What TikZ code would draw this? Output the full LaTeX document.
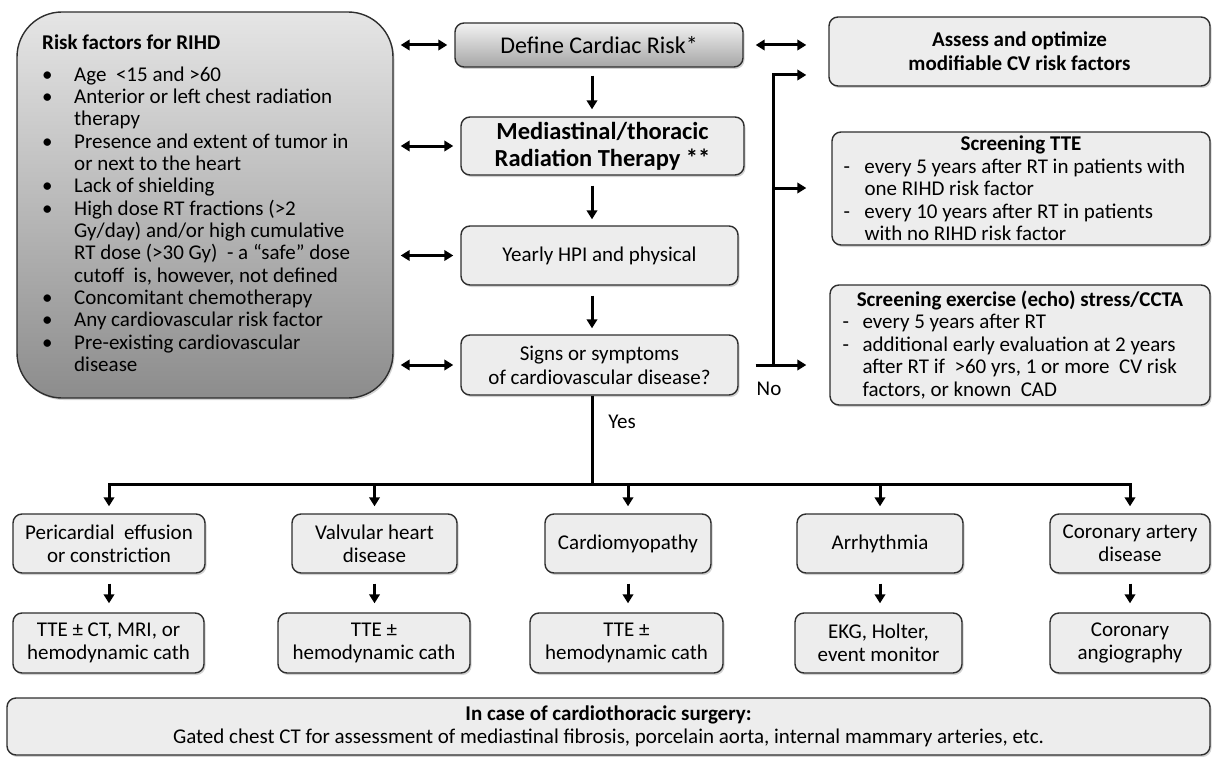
\documentclass[tikz,border=0pt]{standalone}
\usepackage{fontspec}
\setmainfont{Carlito}
\usetikzlibrary{arrows.meta,shadows}
\definecolor{boxgray}{HTML}{EDEDED}
\definecolor{edge}{HTML}{2E2E2E}
\newcommand\fsn{\fontsize{21}{23}\selectfont}
\newcommand\rbul{\makebox[32pt][l]{\textbullet}}
\newcommand\rind{\hspace*{32pt}}
\newcommand\dsh{\makebox[21pt][l]{-}}
\newcommand\dind{\hspace*{21pt}}
\begin{document}
\begin{tikzpicture}[x=1pt,y=-1pt,
  box/.style={draw=edge, line width=1.4pt, rounded corners=9pt, fill=boxgray,
    align=center, inner sep=0pt, font=\fsn,
    drop shadow={shadow xshift=1.5pt, shadow yshift=-2pt, opacity=0.35}},
  arr/.style={line width=3pt, -{Triangle[width=10.5pt,length=9pt]}},
  dbl/.style={line width=3pt, {Triangle[width=10.5pt,length=9pt]}-{Triangle[width=10.5pt,length=9pt]}},
  ln/.style={line width=3pt},
  lbl/.style={font=\fsn, inner sep=0pt, anchor=base}]
\useasboundingbox (0,0) rectangle (1212,757);

% left risk box
\node[box, rounded corners=45pt, top color=white!90!black, bottom color=white!55!black,
  minimum width=376pt, minimum height=386pt] (risk) at (205,205) {};
\node[inner sep=0pt, anchor=north west, align=left, font=\fontsize{21}{22.35}\selectfont] (risktxt) at (42,35)
 {\textbf{Risk factors for RIHD}\\[8.8pt]
  \rbul Age\ \ <15 and >60\\
  \rbul Anterior or left chest radiation\\
  \rind therapy\\
  \rbul Presence and extent of tumor in\\
  \rind or next to the heart\\
  \rbul Lack of shielding\\
  \rbul High dose RT fractions (>2\\
  \rind Gy/day) and/or high cumulative\\
  \rind RT dose (>30 Gy)\ \ - a “safe” dose\\
  \rind cutoff\ \ is, however, not defined\\
  \rbul Concomitant chemotherapy\\
  \rbul Any cardiovascular risk factor\\
  \rbul Pre-existing cardiovascular\\
  \rind disease};

% center column
\node[box, top color=white!95!black, bottom color=white!65!black,
  minimum width=288pt, minimum height=44pt, font=\fontsize{24}{27}\selectfont] (define) at (599,45) {Define Cardiac Risk*};
\node[box, minimum width=283pt, minimum height=58pt, font=\fontsize{24.5}{27}\selectfont\bfseries] (med) at (602.5,146)
 {Mediastinal/thoracic\\Radiation Therapy **};
\node[box, minimum width=277pt, minimum height=59pt] (yearly) at (599.5,255.5) {Yearly HPI and physical};
\node[box, minimum width=277pt, minimum height=60pt, font=\fontsize{21}{24}\selectfont] (signs) at (599.5,365)
 {Signs or symptoms\\of cardiovascular disease?};

% right column
\node[box, minimum width=381pt, minimum height=69pt, font=\fontsize{21}{24}\selectfont\bfseries] (assess) at (1019.5,51.5)
 {Assess and optimize\\modifiable CV risk factors};
\node[box, minimum width=378pt, minimum height=113pt, align=left,
  font=\fontsize{21}{22.5}\selectfont] (tte) at (1021,188.5)
 {\makebox[355pt][c]{\bfseries Screening TTE}\\
  \dsh every 5 years after RT in patients with\\
  \dind one RIHD risk factor\\
  \dsh every 10 years after RT in patients\\
  \dind with no RIHD risk factor};
\node[box, minimum width=380pt, minimum height=120pt, align=left,
  font=\fontsize{21}{22.5}\selectfont] (exer) at (1020,345)
 {\makebox[355pt][c]{\bfseries Screening exercise (echo) stress/CCTA}\\
  \makebox[20pt][l]{-}every 5 years after RT\\
  \makebox[20pt][l]{-}additional early evaluation at 2 years\\
  \hspace*{20pt}after RT if\ \ >60 yrs, 1 or more\ \ CV risk\\
  \hspace*{20pt}factors, or known\ \ CAD};

% bottom row 1
\node[box, minimum width=192pt, minimum height=59pt] (p1) at (109,543.5) {Pericardial\ \ effusion\\or constriction};
\node[box, minimum width=165pt, minimum height=59pt] (p2) at (374.5,543.5) {Valvular heart\\disease};
\node[box, minimum width=166pt, minimum height=59pt] (p3) at (628,543.5) {Cardiomyopathy};
\node[box, minimum width=166pt, minimum height=59pt] (p4) at (880,543.5) {Arrhythmia};
\node[box, minimum width=160pt, minimum height=59pt] (p5) at (1130,543.5) {Coronary artery\\disease};
% bottom row 2
\node[box, minimum width=191pt, minimum height=60pt] (q1) at (108.5,643) {TTE ± CT, MRI, or\\hemodynamic cath};
\node[box, minimum width=192pt, minimum height=60pt] (q2) at (374,643) {TTE ±\\hemodynamic cath};
\node[box, minimum width=193pt, minimum height=60pt] (q3) at (626.5,643) {TTE ±\\hemodynamic cath};
\node[box, minimum width=167pt, minimum height=60pt] (q4) at (878.5,643) {EKG, Holter,\\event monitor};
\node[box, minimum width=160pt, minimum height=60pt] (q5) at (1130,643) {Coronary\\angiography};
% surgery box
\node[box, minimum width=1203pt, minimum height=57pt] (surg) at (608.5,726.5)
 {\textbf{In case of cardiothoracic surgery:}\\Gated chest CT for assessment of mediastinal fibrosis, porcelain aorta, internal mammary arteries, etc.};

% left double arrows
\foreach \n in {define,med,yearly,signs}
  \draw[dbl, shorten <=7pt, shorten >=7pt] (risk.east |- \n.west) -- (\n.west);
% define -> assess
\draw[dbl, shorten <=12pt, shorten >=22pt] (define.east) -- (define.east -| assess.west);
% center arrows
\draw[arr, shorten <=8pt, shorten >=7pt] ([xshift=-7pt]define.south) -- ([xshift=-7pt]define.south |- med.north);
\draw[arr, shorten <=10pt, shorten >=6pt] ([xshift=-7pt]define.south |- med.south) -- ([xshift=-7pt]define.south |- yearly.north);
\draw[arr, shorten <=10pt, shorten >=6pt] ([xshift=-7pt]define.south |- yearly.south) -- ([xshift=-7pt]define.south |- signs.north);

% No branch
\coordinate (bt) at (773,75);
\coordinate (bm) at (773,188);
\draw[arr, shorten <=17pt, shorten >=23pt] (signs.east) -- (signs.east -| exer.west);
\draw[arr, shorten >=22pt] (signs.east -| bt) -- (bt) -- (bt -| assess.west);
\draw[arr, shorten >=25pt] (bm) -- (bm -| tte.west);
\node[lbl] (no) at (769,395) {No};

% Yes branch
\coordinate (bar) at (592,484);
\draw[ln] (signs.south -| bar) -- (bar);
\node[lbl] (yes) at (622,428) {Yes};
\draw[ln, line cap=rect] (p1.north |- bar) -- (p5.north |- bar);
\foreach \n in {p1,p2,p3,p4,p5}
  \draw[arr, shorten >=7pt] (\n.north |- bar) -- (\n.north);
\foreach \a/\b in {p1/q1,p2/q2,p3/q3,p4/q4,p5/q5}
  \draw[arr, shorten <=10pt, shorten >=9pt] (\a.south) -- (\a.south |- \b.north);
\end{tikzpicture}
\end{document}
